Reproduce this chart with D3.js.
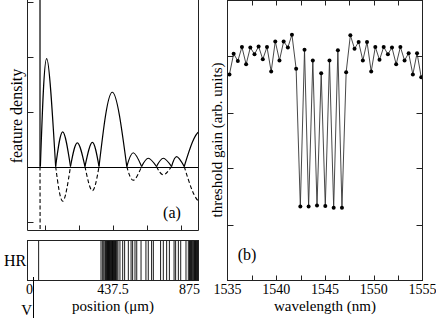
<!DOCTYPE html>
<html>
<head>
<meta charset="utf-8">
<script src="https://cdn.jsdelivr.net/npm/d3@7"></script>
<style>
  body { margin: 0; background: #fff; }
  svg { display: block; }
  text { font-family: "Liberation Serif", "Times New Roman", serif; fill: #000; }
</style>
</head>
<body>
<svg id="chart" width="436" height="318"></svg>
<script>
// ---- panel (a): feature density along the cavity (positions in um)
const lobeZeros = [66, 144, 220, 294, 366, 508, 584, 660, 737, 802, 968];
const lobePeakPos = [98, 180, 255, 332, 434, 541, 618, 695, 763, 885];
const lobePeakVal = [1.96, -0.63, 0.43, -0.44, 1.35, -0.25, 0.15, -0.15, 0.18, -0.64];
const spikePos = 64;
const spikeVal = -6;
const densityTicks = [-1, 0, 1, 2, 3];
const positionTicks = [87.5, 262.5, 437.5, 612.5, 787.5];

// HR grating feature positions (um)
const hrLines = [57,
  376, 383, 390, 396, 400, 403, 406, 409, 412, 414, 417, 420, 423, 426, 429, 432,
  435, 438, 441, 444, 447, 450, 454, 458, 463,
  473, 487, 497, 516, 530, 538, 550, 559, 581, 606, 618, 635, 644, 681, 695, 712,
  726, 750, 758, 772, 784, 811,
  823, 829, 834, 839, 843, 847, 851, 854, 857, 860, 863, 866, 869, 872];
const vMarkPos = 30;

// ---- panel (b): threshold gain vs wavelength
const wavelength = [1535.20, 1535.63, 1536.06, 1536.48, 1536.91, 1537.34, 1537.77, 1538.19,
  1538.62, 1539.05, 1539.48, 1539.90, 1540.33, 1540.76, 1541.19, 1541.61, 1542.04, 1542.47,
  1542.90, 1543.32, 1543.75, 1544.18, 1544.61, 1545.03, 1545.46, 1545.89, 1546.32, 1546.74,
  1547.17, 1547.60, 1548.03, 1548.45, 1548.88, 1549.31, 1549.74, 1550.16, 1550.59, 1551.02,
  1551.45, 1551.87, 1552.30, 1552.73, 1553.16, 1553.58, 1554.01, 1554.44, 1554.87];
const gain = [3.68, 4.05, 3.92, 4.17, 3.86, 4.16, 4.04, 4.18, 3.95, 4.17, 3.73, 4.27, 3.93,
  4.27, 4.16, 4.39, 3.78, 1.32, 4.12, 1.32, 3.93, 1.34, 3.70, 1.33, 3.93, 1.30, 4.11, 1.30,
  3.72, 4.38, 4.14, 4.26, 3.93, 4.26, 3.73, 4.17, 3.94, 4.17, 4.04, 4.16, 3.86, 4.17, 3.93,
  4.06, 3.68, 4.06, 3.63];
const waveTicks = [1535, 1540, 1545, 1550, 1555];
const waveMinorTicks = [1537.5, 1542.5, 1547.5, 1552.5];
const gainTicks = [1, 2, 3, 4];

const svg = d3.select("#chart");
const defs = svg.append("defs");

// layout
const A = {left: 27.5, right: 198.5, top: -1, bottom: 230.5};
const HR = {top: 240.5, bottom: 280.5};
const B = {left: 227.5, right: 422.5, top: 0.5, bottom: 280.5};

const x = d3.scaleLinear().domain([0, 875]).range([A.left, A.right]);
const y = d3.scaleLinear().domain([-1, 3]).range([221.5, 1.5]);

const xb = d3.scaleLinear().domain([1535, 1555]).range([B.left, B.right]);
const yb = d3.scaleLinear().domain([0, 5]).range([B.bottom, B.top]);

defs.append("clipPath").attr("id", "clipA")
  .append("rect").attr("x", A.left).attr("y", 0)
  .attr("width", A.right - A.left).attr("height", A.bottom);
defs.append("clipPath").attr("id", "clipB")
  .append("rect").attr("x", B.left).attr("y", B.top)
  .attr("width", B.right - B.left).attr("height", B.bottom - B.top);

// ---------- panel (a)
const gA = svg.append("g");
const curves = gA.append("g").attr("clip-path", "url(#clipA)");

const lobes = lobePeakPos.map((p, i) => [
  [lobeZeros[i], 0], [p, lobePeakVal[i]], [lobeZeros[i + 1], 0]
]);

const lineAbs = d3.line().x(d => x(d[0])).y(d => y(Math.abs(d[1]))).curve(d3.curveNatural);
const lineSigned = d3.line().x(d => x(d[0])).y(d => y(d[1])).curve(d3.curveNatural);

curves.selectAll("path.neg")
  .data(lobes.filter((l, i) => lobePeakVal[i] < 0))
  .enter().append("path")
  .attr("class", "neg")
  .attr("d", lineSigned)
  .attr("fill", "none").attr("stroke", "#000").attr("stroke-width", 1.1)
  .attr("stroke-dasharray", "4,2.5");

curves.selectAll("path.abs")
  .data(lobes)
  .enter().append("path")
  .attr("class", "abs")
  .attr("d", lineAbs)
  .attr("fill", "none").attr("stroke", "#000").attr("stroke-width", 1.2);

// spike at the cavity start
curves.append("line")
  .attr("x1", x(spikePos)).attr("x2", x(spikePos))
  .attr("y1", y(0)).attr("y2", y(Math.abs(spikeVal)))
  .attr("stroke", "#000").attr("stroke-width", 1.2);
curves.append("line")
  .attr("x1", x(spikePos)).attr("x2", x(spikePos) + 0.5)
  .attr("y1", y(0)).attr("y2", y(spikeVal))
  .attr("stroke", "#000").attr("stroke-width", 1.1)
  .attr("stroke-dasharray", "4,2.5");

// zero line
gA.append("line")
  .attr("x1", A.left).attr("x2", A.right)
  .attr("y1", Math.round(y(0)) + 0.5).attr("y2", Math.round(y(0)) + 0.5)
  .attr("stroke", "#000").attr("stroke-width", 1);

// frame of (a): left, bottom, right
gA.append("path")
  .attr("d", `M${A.left},${A.top}V${A.bottom}H${A.right}V${A.top}`)
  .attr("fill", "none").attr("stroke", "#222").attr("stroke-width", 1);

// ticks (inward)
gA.selectAll("line.yt").data(densityTicks.filter(t => t !== 0)).enter().append("line")
  .attr("x1", A.left).attr("x2", A.left + 6)
  .attr("y1", d => Math.round(y(d)) + 0.5).attr("y2", d => Math.round(y(d)) + 0.5)
  .attr("stroke", "#222");
gA.selectAll("line.xt").data(positionTicks).enter().append("line")
  .attr("x1", d => Math.round(x(d)) + 0.5).attr("x2", d => Math.round(x(d)) + 0.5)
  .attr("y1", A.bottom).attr("y2", A.bottom - 5)
  .attr("stroke", "#222");

gA.append("text")
  .attr("x", 172).attr("y", 218)
  .attr("text-anchor", "middle").attr("font-size", 16)
  .text("(a)");

gA.append("text")
  .attr("transform", "translate(22,116) rotate(-90)")
  .attr("text-anchor", "middle").attr("font-size", 16)
  .text("feature density");

// ---------- HR strip
const gH = svg.append("g");
gH.selectAll("line.hr").data(hrLines).enter().append("line")
  .attr("x1", d => x(d)).attr("x2", d => x(d))
  .attr("y1", HR.top).attr("y2", HR.bottom)
  .attr("stroke", "#000").attr("stroke-width", 0.9);
gH.append("rect")
  .attr("x", A.left).attr("y", HR.top)
  .attr("width", A.right - A.left).attr("height", HR.bottom - HR.top)
  .attr("fill", "none").attr("stroke", "#222").attr("stroke-width", 1);

gH.append("text")
  .attr("x", 4).attr("y", 266).attr("font-size", 16)
  .text("HR");

gH.append("text").attr("x", 26).attr("y", 294).attr("font-size", 14)
  .text("0");
gH.append("text").attr("x", x(437.5)).attr("y", 294).attr("font-size", 14)
  .attr("text-anchor", "middle").text("437.5");
gH.append("text").attr("x", 200).attr("y", 294).attr("font-size", 14)
  .attr("text-anchor", "end").text("875");
gH.append("text").attr("x", x(437.5)).attr("y", 311).attr("font-size", 15)
  .attr("text-anchor", "middle").text("position (\u03bcm)");

// V marker
gH.append("line")
  .attr("x1", Math.round(x(vMarkPos)) + 0.5).attr("x2", Math.round(x(vMarkPos)) + 0.5)
  .attr("y1", 277).attr("y2", 318)
  .attr("stroke", "#000").attr("stroke-width", 1);
gH.append("text").attr("x", 32).attr("y", 315).attr("font-size", 15)
  .attr("text-anchor", "end").text("V");

// ---------- panel (b)
const gB = svg.append("g");
const plotB = gB.append("g").attr("clip-path", "url(#clipB)");

const lineB = d3.line().x((d, i) => xb(wavelength[i])).y(d => yb(d));
plotB.append("path")
  .datum(gain)
  .attr("d", lineB)
  .attr("fill", "none").attr("stroke", "#333").attr("stroke-width", 0.9);
plotB.selectAll("circle").data(gain).enter().append("circle")
  .attr("cx", (d, i) => xb(wavelength[i])).attr("cy", d => yb(d))
  .attr("r", 2).attr("fill", "#000");

gB.append("rect")
  .attr("x", B.left).attr("y", B.top)
  .attr("width", B.right - B.left).attr("height", B.bottom - B.top)
  .attr("fill", "none").attr("stroke", "#222").attr("stroke-width", 1);

const allWaveTicks = waveTicks.concat(waveMinorTicks).filter(t => t > 1535 && t < 1555);
gB.selectAll("line.bt").data(allWaveTicks).enter().append("line")
  .attr("x1", d => Math.round(xb(d)) + 0.5).attr("x2", d => Math.round(xb(d)) + 0.5)
  .attr("y1", B.bottom).attr("y2", B.bottom - 5)
  .attr("stroke", "#222");
gB.selectAll("line.tt").data(allWaveTicks).enter().append("line")
  .attr("x1", d => Math.round(xb(d)) + 0.5).attr("x2", d => Math.round(xb(d)) + 0.5)
  .attr("y1", B.top).attr("y2", B.top + 5)
  .attr("stroke", "#222");
gB.selectAll("line.lt").data(gainTicks).enter().append("line")
  .attr("x1", B.left).attr("x2", B.left + 6)
  .attr("y1", d => Math.round(yb(d)) + 0.5).attr("y2", d => Math.round(yb(d)) + 0.5)
  .attr("stroke", "#222");
gB.selectAll("line.rt").data(gainTicks).enter().append("line")
  .attr("x1", B.right).attr("x2", B.right - 6)
  .attr("y1", d => Math.round(yb(d)) + 0.5).attr("y2", d => Math.round(yb(d)) + 0.5)
  .attr("stroke", "#222");

gB.selectAll("text.wl").data(waveTicks).enter().append("text")
  .attr("x", d => xb(d)).attr("y", 294)
  .attr("text-anchor", "middle").attr("font-size", 14)
  .text(d => d);
gB.append("text")
  .attr("x", xb(1545)).attr("y", 311)
  .attr("text-anchor", "middle").attr("font-size", 15)
  .text("wavelength (nm)");
gB.append("text")
  .attr("transform", "translate(222,140) rotate(-90)")
  .attr("text-anchor", "middle").attr("font-size", 15)
  .text("threshold gain (arb. units)");
gB.append("text")
  .attr("x", 247).attr("y", 260)
  .attr("text-anchor", "middle").attr("font-size", 16)
  .text("(b)");
</script>
</body>
</html>
